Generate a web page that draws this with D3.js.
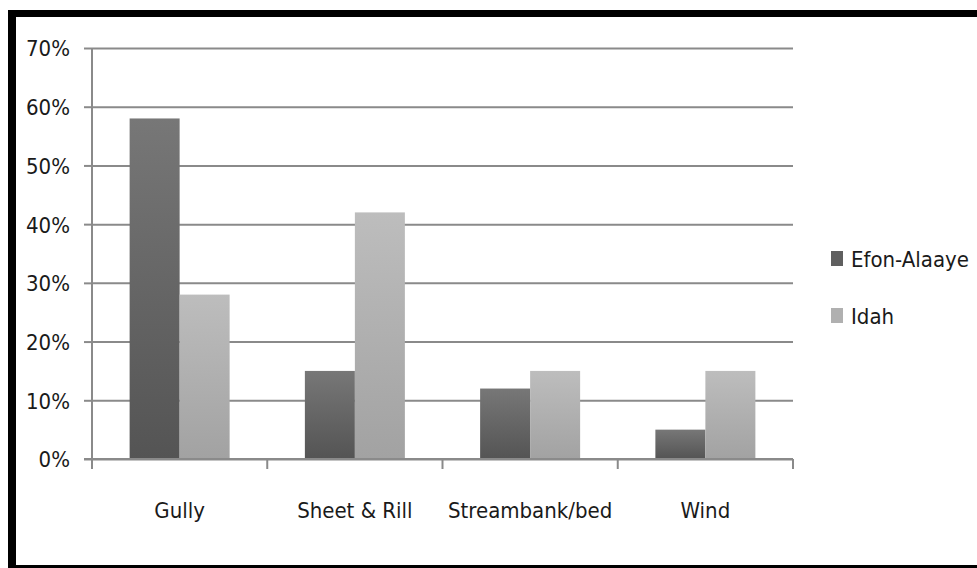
<!DOCTYPE html>
<html>
<head>
<meta charset="utf-8">
<script src="https://cdn.jsdelivr.net/npm/d3@7"></script>
<style>
  html, body { margin: 0; padding: 0; background: #fff; }
  svg { display: block; }
  text { font-family: "DejaVu Sans Condensed", "Liberation Sans", sans-serif; fill: #1a1a1a; }
</style>
</head>
<body>
<svg id="chart" width="977" height="568"></svg>
<script>
var categories = ["Gully", "Sheet & Rill", "Streambank/bed", "Wind"];
var seriesNames = ["Efon-Alaaye", "Idah"];
var efonValues = [58, 15, 12, 5];
var idahValues = [28, 42, 15, 15];
var yTicks = [0, 10, 20, 30, 40, 50, 60, 70];

var svg = d3.select('#chart');
var fontSize = 22;

// frame: thick black on top, left, bottom
svg.append('rect').attr('x', 0).attr('y', 0).attr('width', 977).attr('height', 568).attr('fill', '#fff');
svg.append('rect').attr('x', 8).attr('y', 10).attr('width', 969).attr('height', 7).attr('fill', '#000');
svg.append('rect').attr('x', 8).attr('y', 10).attr('width', 8).attr('height', 558).attr('fill', '#000');
svg.append('rect').attr('x', 8).attr('y', 565).attr('width', 969).attr('height', 3).attr('fill', '#000');

var plot = { left: 92, right: 793, top: 48, bottom: 459 };

var x = d3.scaleBand().domain(categories).range([plot.left, plot.right]);
var inner = d3.scaleBand().domain(seriesNames).range([0, 100]);
var y = d3.scaleLinear().domain([0, 70]).range([plot.bottom, plot.top]);

// gradients for bars
var defs = svg.append('defs');
var grads = [
  { id: 'gDark', top: '#777777', bottom: '#545454' },
  { id: 'gLight', top: '#bdbdbd', bottom: '#a2a2a2' }
];
grads.forEach(function(g) {
  var lg = defs.append('linearGradient').attr('id', g.id)
    .attr('x1', 0).attr('y1', 0).attr('x2', 0).attr('y2', 1);
  lg.append('stop').attr('offset', '0%').attr('stop-color', g.top);
  lg.append('stop').attr('offset', '100%').attr('stop-color', g.bottom);
});
var fills = { "Efon-Alaaye": 'url(#gDark)', "Idah": 'url(#gLight)' };
var legendFills = { "Efon-Alaaye": '#5f5f5f', "Idah": '#b0b0b0' };

// gridlines (y axis with long ticks)
var yAxis = d3.axisLeft(y).tickValues(yTicks).tickFormat(function(d) { return d + '%'; })
  .tickSize(-(plot.right - plot.left)).tickPadding(22);
var gy = svg.append('g').attr('transform', 'translate(' + plot.left + ',0)').call(yAxis);
gy.select('.domain').remove();
gy.selectAll('.tick line').attr('stroke', '#8a8a8a').attr('stroke-width', 2);
gy.selectAll('.tick text').attr('font-size', fontSize).attr('dy', '0.36em');
// small outer ticks left of axis
gy.selectAll('.tick').append('line').attr('x1', -8).attr('x2', 0)
  .attr('stroke', '#8a8a8a').attr('stroke-width', 2);

// bars
var rows = categories.map(function(c, i) {
  return { cat: c, vals: [{ s: seriesNames[0], v: efonValues[i] }, { s: seriesNames[1], v: idahValues[i] }] };
});
var groups = svg.append('g').selectAll('g').data(rows).join('g')
  .attr('transform', function(d) { return 'translate(' + (x(d.cat) + (x.bandwidth() - 100) / 2) + ',0)'; });
groups.selectAll('rect').data(function(d) { return d.vals; }).join('rect')
  .attr('x', function(d) { return inner(d.s); })
  .attr('width', inner.bandwidth())
  .attr('y', function(d) { return y(d.v); })
  .attr('height', function(d) { return y(0) - y(d.v); })
  .attr('fill', function(d) { return fills[d.s]; });

// axes lines
svg.append('line').attr('x1', plot.left).attr('x2', plot.left).attr('y1', plot.top).attr('y2', plot.bottom)
  .attr('stroke', '#8a8a8a').attr('stroke-width', 2);
svg.append('line').attr('x1', plot.left - 8).attr('x2', plot.right).attr('y1', plot.bottom).attr('y2', plot.bottom)
  .attr('stroke', '#8a8a8a').attr('stroke-width', 2);

// category ticks and labels
var bounds = categories.map(function(c) { return x(c); }).concat([plot.right]);
svg.append('g').selectAll('line').data(bounds).join('line')
  .attr('x1', function(d) { return d; }).attr('x2', function(d) { return d; })
  .attr('y1', plot.bottom).attr('y2', plot.bottom + 10)
  .attr('stroke', '#8a8a8a').attr('stroke-width', 2);
svg.append('g').selectAll('text').data(categories).join('text')
  .attr('x', function(d) { return x(d) + x.bandwidth() / 2; })
  .attr('y', 518)
  .attr('text-anchor', 'middle')
  .attr('font-size', fontSize)
  .text(function(d) { return d; });

// legend
var legend = svg.append('g').selectAll('g').data(seriesNames).join('g')
  .attr('transform', function(d, i) { return 'translate(831,' + (251 + i * 57) + ')'; });
legend.append('rect').attr('width', 12).attr('height', 15)
  .attr('fill', function(d) { return legendFills[d]; });
legend.append('text').attr('x', 20).attr('y', 16).attr('font-size', fontSize)
  .text(function(d) { return d; });
</script>
</body>
</html>
